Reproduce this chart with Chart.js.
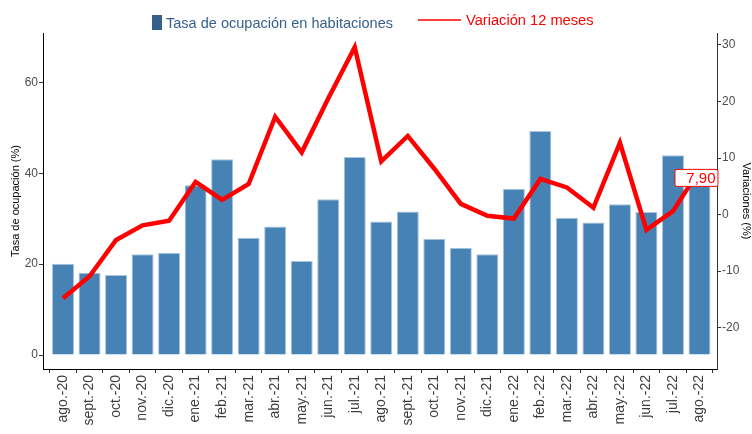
<!DOCTYPE html>
<html>
<head>
<meta charset="utf-8">
<script src="https://cdn.jsdelivr.net/npm/chart.js@4/dist/chart.umd.min.js"></script>
<style>
  html, body { margin: 0; padding: 0; background: #fff; }
  #wrap { width: 752px; height: 434px; }
</style>
</head>
<body>
<div id="wrap"><canvas id="c" width="752" height="434"></canvas></div>
<script>
// months shown on the x axis
const months = ['ago.-20','sept.-20','oct.-20','nov.-20','dic.-20','ene.-21','feb.-21','mar.-21',
  'abr.-21','may.-21','jun.-21','jul.-21','ago.-21','sept.-21','oct.-21','nov.-21','dic.-21',
  'ene.-22','feb.-22','mar.-22','abr.-22','may.-22','jun.-22','jul.-22','ago.-22'];
// tasa de ocupación (%) - left axis
const ocupacion = [20.1, 18.1, 17.6, 22.2, 22.5, 37.4, 43.1, 25.8, 28.3, 20.7, 34.3, 43.6, 29.4,
  31.6, 25.6, 23.6, 22.2, 36.6, 49.3, 30.2, 29.2, 33.2, 31.5, 44.0, 38.5];
// variación 12 meses (%) - right axis
const variacion = [-14.8, -10.9, -4.5, -1.9, -1.1, 5.8, 2.6, 5.4, 17.3, 11.0, 20.5, 29.6, 9.4,
  13.9, 8.1, 1.9, -0.2, -0.7, 6.3, 4.8, 1.2, 12.7, -2.7, 0.6, 7.9];

const FONT = '"Liberation Sans", Arial, sans-serif';

// legend drawn by hand (not centred on the plot)
const legendPlugin = {
  id: 'customLegend',
  afterDraw(chart) {
    const ctx = chart.ctx;
    ctx.save();
    ctx.fillStyle = '#365f8c';
    ctx.fillRect(152, 15, 10, 15);
    const fitText = (txt, x, y, w, size, color) => {
      ctx.font = size + 'px ' + FONT;
      const m = ctx.measureText(txt).width;
      ctx.save();
      ctx.translate(x, y);
      ctx.scale(w / m, 1);
      ctx.fillStyle = color;
      ctx.textBaseline = 'alphabetic';
      ctx.textAlign = 'left';
      ctx.fillText(txt, 0, 0);
      ctx.restore();
    };
    fitText('Tasa de ocupación en habitaciones', 166, 28, 227, 15, '#365f8c');
    ctx.strokeStyle = '#ff0000';
    ctx.lineWidth = 1.5;
    ctx.beginPath();
    ctx.moveTo(418, 20);
    ctx.lineTo(461, 20);
    ctx.stroke();
    fitText('Variación 12 meses', 466, 24.5, 127.5, 14, '#ff0000');
    ctx.restore();
  }
};

// boxed label on the last point of the line
const lastLabelPlugin = {
  id: 'lastLabel',
  afterDatasetsDraw(chart) {
    const meta = chart.getDatasetMeta(1);
    const pt = meta.data[meta.data.length - 1];
    const txt = variacion[variacion.length - 1].toFixed(2).replace('.', ',');
    const ctx = chart.ctx;
    ctx.save();
    const x0 = pt.x - 25, y0 = pt.y - 1, w = 43, h = 17;
    ctx.beginPath();
    ctx.roundRect(x0 + 0.5, y0 + 0.5, w, h, 2);
    ctx.fillStyle = '#fff';
    ctx.fill();
    ctx.strokeStyle = '#ff0000';
    ctx.lineWidth = 1;
    ctx.stroke();
    ctx.font = '15px ' + FONT;
    ctx.fillStyle = '#ff0000';
    ctx.textAlign = 'right';
    ctx.textBaseline = 'middle';
    ctx.fillText(txt, pt.x + 16, y0 + h / 2 + 1);
    ctx.restore();
  }
};

const tickGrid = { drawOnChartArea: false, drawTicks: true, tickLength: 4, color: '#333', lineWidth: 1 };

new Chart(document.getElementById('c'), {
  type: 'bar',
  data: {
    datasets: [
      {
        type: 'bar',
        label: 'Tasa de ocupación en habitaciones',
        data: ocupacion.map((v, i) => ({ x: i, y: v })),
        backgroundColor: '#4682b4',
        borderColor: '#a9c5df',
        borderWidth: 1,
        barPercentage: 0.83,
        categoryPercentage: 1,
        yAxisID: 'y',
        order: 2,
      },
      {
        type: 'line',
        label: 'Variación 12 meses',
        data: variacion.map((v, i) => ({ x: i, y: v })),
        borderColor: '#ff0000',
        borderWidth: 4.5,
        pointRadius: 0,
        tension: 0,
        fill: false,
        yAxisID: 'y1',
        order: 1,
      },
    ],
  },
  options: {
    responsive: false,
    animation: false,
    devicePixelRatio: 1,
    layout: { padding: { top: 33, left: 0, right: 0, bottom: 0 } },
    plugins: { legend: { display: false }, tooltip: { enabled: false } },
    scales: {
      x: {
        type: 'linear',
        min: -0.755,
        max: 24.66,
        offset: false,
        grid: tickGrid,
        border: { display: true, color: '#000', width: 1 },
        ticks: {
          stepSize: 1, autoSkip: false, includeBounds: false, maxTicksLimit: 40,
          minRotation: 90, maxRotation: 90, padding: 2,
          font: { size: 14, family: FONT }, color: '#3d3d3d',
          callback: v => months[v] ?? '',
        },
        afterFit: s => { s.height = 65; },
      },
      y: {
        position: 'left',
        min: -3.08,
        max: 70.9,
        grid: tickGrid,
        border: { display: true, color: '#000', width: 1 },
        ticks: { stepSize: 20, includeBounds: false, padding: 1, font: { size: 12, family: FONT }, color: '#4d4d4d' },
        title: { display: true, text: 'Tasa de ocupación (%)', color: '#000',
          font: { size: 11, family: FONT, lineHeight: 1 }, padding: { top: 10, bottom: 0 } },
        afterFit: s => { s.width = 43; },
      },
      y1: {
        position: 'right',
        min: -27.3,
        max: 32.1,
        grid: tickGrid,
        border: { display: true, color: '#333', width: 1 },
        ticks: { stepSize: 10, includeBounds: false, padding: 1, font: { size: 12, family: FONT }, color: '#4d4d4d' },
        title: { display: true, text: 'Variaciones (%)', color: '#000',
          font: { size: 11, family: FONT, lineHeight: 1 }, padding: { top: 0, bottom: 0 } },
        afterFit: s => { s.width = 35; },
      },
    },
  },
  plugins: [legendPlugin, lastLabelPlugin],
});
</script>
</body>
</html>
